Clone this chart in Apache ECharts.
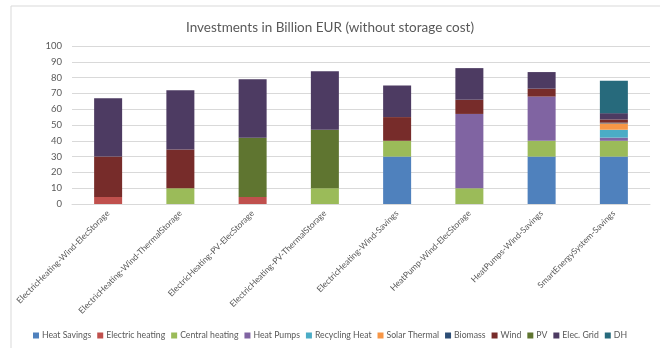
<!DOCTYPE html>
<html><head><meta charset="utf-8">
<script src="https://cdn.jsdelivr.net/npm/echarts@6/dist/echarts.min.js"></script>
<style>html,body{margin:0;padding:0;background:#fff;}#c{width:660px;height:348px;}</style>
</head><body><div id="c"></div>
<script>
const categories = ["ElectricHeating-Wind-ElecStorage","ElectricHeating-Wind-ThermalStorage","ElectricHeating-PV-ElecStorage","ElectricHeating-PV-ThermalStorage","ElectricHeating-Wind-Savings","HeatPump-Wind-ElecStorage","HeatPumps-Wind-Savings","SmartEnergySystem-Savings"];
const heatSavings     = [0, 0, 0, 0, 30, 0, 30, 30];
const electricHeating = [4.5, 0, 4.5, 0, 0, 0, 0, 0];
const centralHeating  = [0, 10, 0, 10, 10, 10, 10, 10];
const heatPumps       = [0, 0, 0, 0, 0, 47, 28, 2];
const recyclingHeat   = [0, 0, 0, 0, 0, 0, 0, 5];
const solarThermal    = [0, 0, 0, 0, 0, 0, 0, 4];
const biomass         = [0, 0, 0, 0, 0, 0, 0, 0.5];
const wind            = [25.5, 24.5, 0, 0, 15, 9, 5, 2];
const pv              = [0, 0, 37.5, 37, 0, 0, 0, 0];
const elecGrid        = [37, 37.5, 37, 37, 20, 20, 10.5, 4];
const dh              = [0, 0, 0, 0, 0, 0, 0, 20.5];
const yTicks = {min: 0, max: 100, interval: 10};

const seriesDefs = [
  ["Heat Savings", heatSavings, "#4F81BD"],
  ["Electric heating", electricHeating, "#C0504D"],
  ["Central heating", centralHeating, "#9BBB59"],
  ["Heat Pumps", heatPumps, "#8064A2"],
  ["Recycling Heat", recyclingHeat, "#4BACC6"],
  ["Solar Thermal", solarThermal, "#F79646"],
  ["Biomass", biomass, "#2C4D75"],
  ["Wind", wind, "#772C2A"],
  ["PV", pv, "#5F7530"],
  ["Elec. Grid", elecGrid, "#4D3B62"],
  ["DH", dh, "#276A7C"]
];
const font = "Lato, 'Noto Sans', sans-serif";
const chart = echarts.init(document.getElementById('c'), null, {renderer: 'canvas'});
chart.setOption({
  animation: false,
  backgroundColor: '#fff',
  graphic: [{type: 'rect', shape: {x: 11, y: 6, width: 700, height: 400}, style: {fill: 'none', stroke: '#d9d9d9', lineWidth: 1}, silent: true}],
  title: {text: 'Investments in Billion EUR (without storage cost)', left: 'center', top: 16,
    textStyle: {fontFamily: font, fontSize: 13.5, fontWeight: 'normal', color: '#595959'}},
  legend: {bottom: 8, left: 'center', width: 650, padding: 0, itemWidth: 6, itemHeight: 6, itemGap: 6, icon: 'rect',
    textStyle: {fontFamily: font, fontSize: 8.7, color: '#595959', padding: [0, 0, 0, -2]},
    data: seriesDefs.map(s => s[0])},
  grid: {left: 72, right: 10, top: 46, bottom: 144},
  xAxis: {type: 'category', data: categories,
    axisLine: {lineStyle: {color: '#d9d9d9'}}, axisTick: {show: false},
    axisLabel: {interval: 0, rotate: 45, margin: 8, fontFamily: font, fontSize: 8.5, color: '#595959'}},
  yAxis: {type: 'value', min: yTicks.min, max: yTicks.max, interval: yTicks.interval,
    axisLine: {show: false}, axisTick: {show: false},
    splitLine: {lineStyle: {color: '#d9d9d9'}},
    axisLabel: {margin: 10, fontFamily: font, fontSize: 9.5, color: '#595959'}},
  series: seriesDefs.map(([name, data, color]) => ({
    name, type: 'bar', stack: 'total', data, barWidth: 28,
    itemStyle: {color}
  }))
});
</script></body></html>
